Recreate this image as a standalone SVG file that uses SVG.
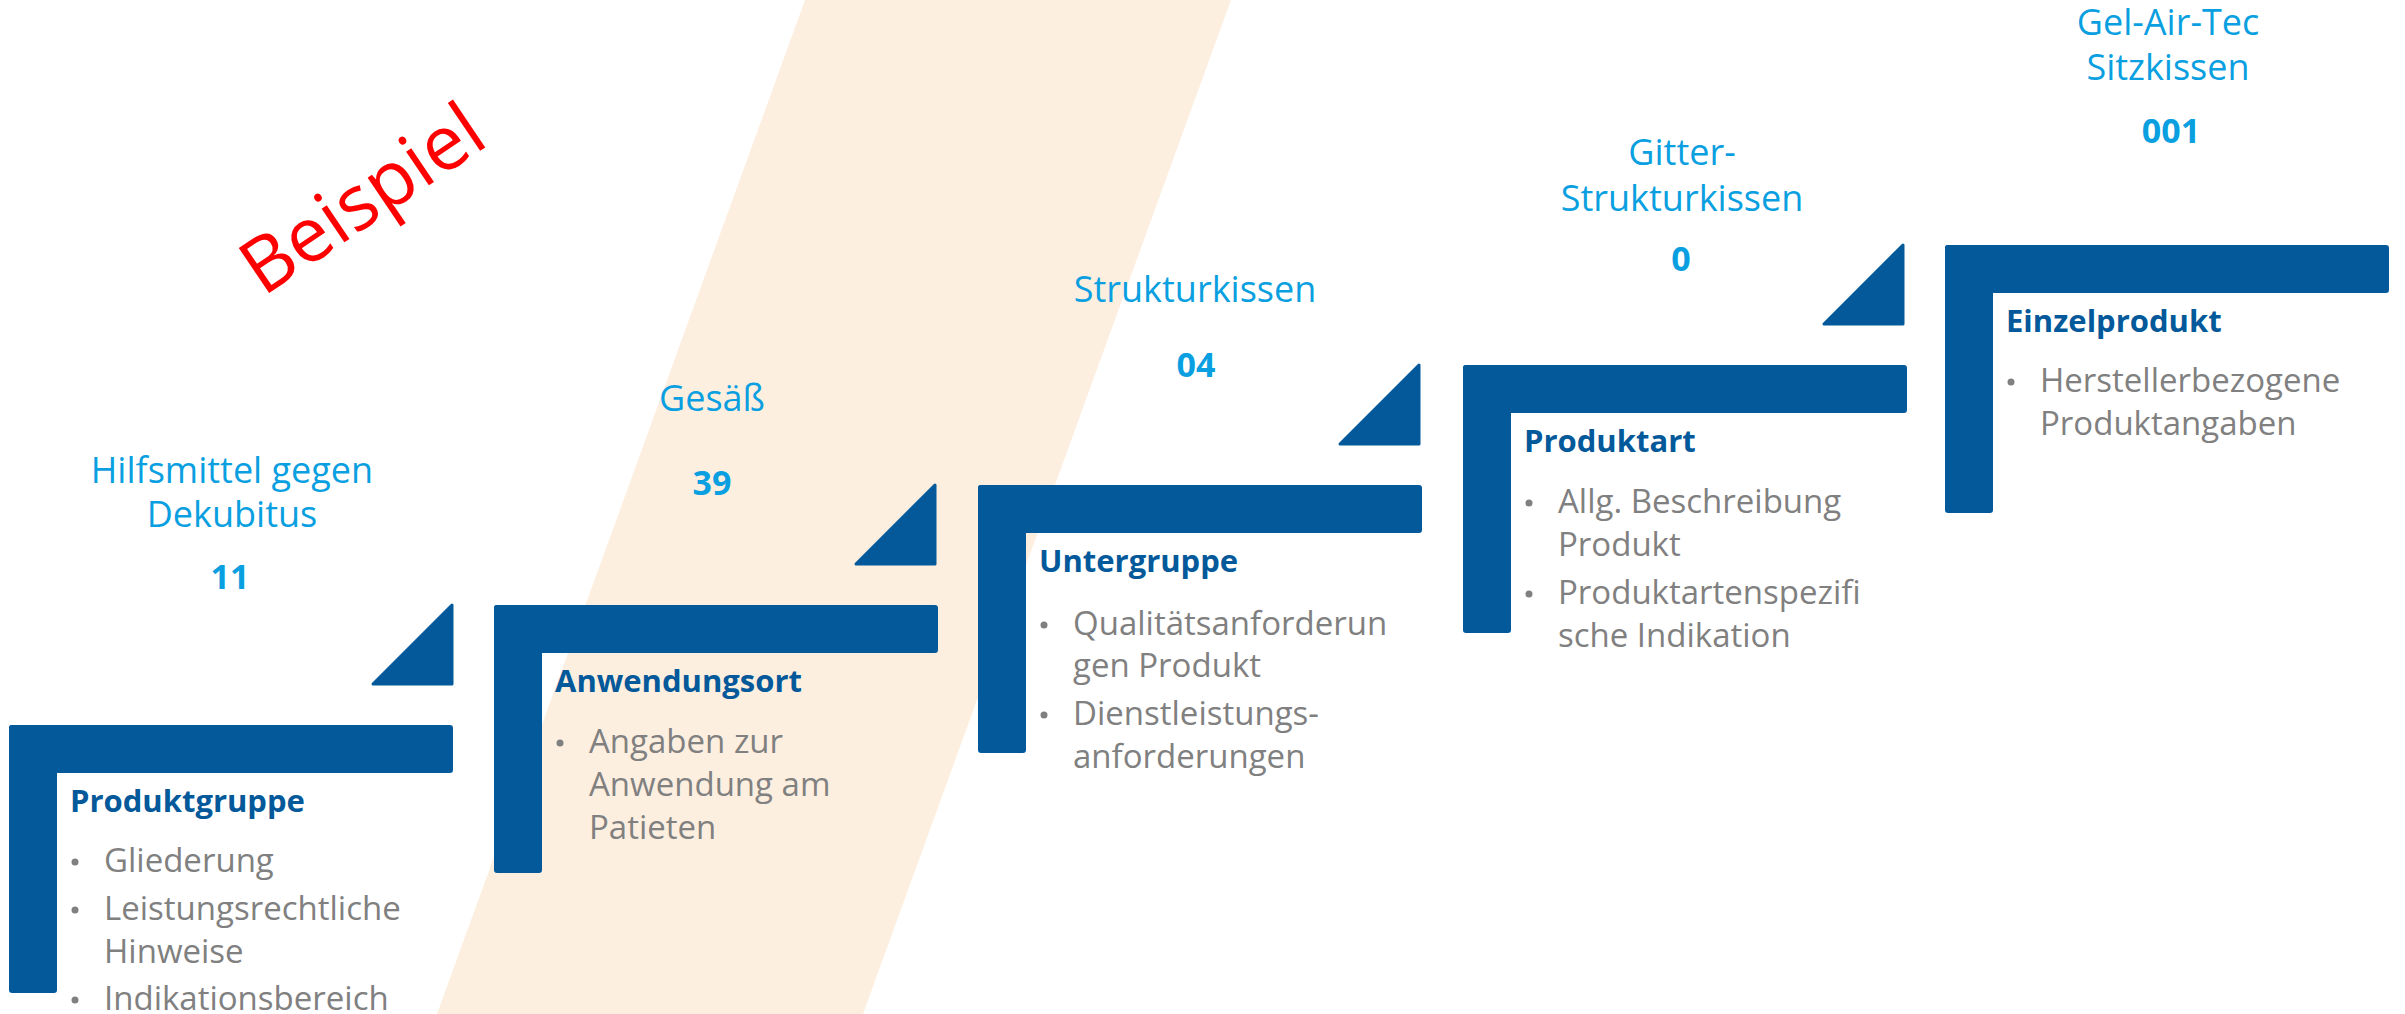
<svg xmlns="http://www.w3.org/2000/svg" xmlns:xlink="http://www.w3.org/1999/xlink" width="2405" height="1014" viewBox="0 0 2405 1014">
  <defs>
    <style>
      .bar { fill: #03599a; }
      .head { font-family: "Open Sans", "Noto Sans", sans-serif; font-weight: 700; font-size: 31px; fill: #03599a; }
      .item { font-family: "Open Sans", "Noto Sans", sans-serif; font-size: 33px; fill: #808080; }
      .dot { fill: #808080; }
      .lbl { font-family: "Open Sans", "Noto Sans", sans-serif; font-size: 36px; fill: #0a9fe0; text-anchor: middle; }
      .code { font-family: "Open Sans", "Noto Sans", sans-serif; font-weight: 700; font-size: 34px; fill: #0a9fe0; text-anchor: middle; }
      .stamp { font-family: "Open Sans", "Noto Sans", sans-serif; font-size: 76px; fill: #ff0000; }
    </style>
    <!-- angle frame of one step: top bar plus left post -->
    <g id="frame">
      <rect class="bar" x="0" y="0" width="444" height="48" rx="3"/>
      <rect class="bar" x="0" y="0" width="48" height="268" rx="3"/>
    </g>
    <!-- wedge pointing up to the next step -->
    <path id="wedge" class="bar" d="M -79 0 L 0 -79 L 0 0 Z" stroke="#03599a" stroke-width="3" stroke-linejoin="round"/>
  </defs>

  <rect width="2405" height="1014" fill="#ffffff"/>

  <!-- diagonal background band -->
  <polygon points="805,0 1231,0 863,1014 437,1014" fill="#fdefe0"/>

  <!-- stamp -->
  <text class="stamp" x="262" y="294" transform="rotate(-34 268 294)">Beispiel</text>

  <!-- wedges between the steps -->
  <g id="connectors">
    <use xlink:href="#wedge" href="#wedge" x="452" y="684"/>
    <use xlink:href="#wedge" href="#wedge" x="935" y="564"/>
    <use xlink:href="#wedge" href="#wedge" x="1419" y="444"/>
    <use xlink:href="#wedge" href="#wedge" x="1903" y="324"/>
  </g>

  <!-- step 1 -->
  <g id="produktgruppe">
    <use xlink:href="#frame" href="#frame" x="9" y="725"/>
    <text class="head" x="70" y="812">Produktgruppe</text>
    <circle class="dot" cx="75" cy="862" r="3.5"/>
    <text class="item" x="104" y="872">Gliederung</text>
    <circle class="dot" cx="75" cy="910" r="3.5"/>
    <text class="item" x="104" y="920">Leistungsrechtliche</text>
    <text class="item" x="104" y="963">Hinweise</text>
    <circle class="dot" cx="75" cy="1000" r="3.5"/>
    <text class="item" x="104" y="1010">Indikationsbereich</text>
    <text class="lbl" x="232" y="483">Hilfsmittel gegen</text>
    <text class="lbl" x="232" y="527">Dekubitus</text>
    <text class="code" x="230" y="589">11</text>
  </g>

  <!-- step 2 -->
  <g id="anwendungsort">
    <use xlink:href="#frame" href="#frame" x="494" y="605"/>
    <text class="head" x="555" y="692">Anwendungsort</text>
    <circle class="dot" cx="560" cy="743" r="3.5"/>
    <text class="item" x="589" y="753">Angaben zur</text>
    <text class="item" x="589" y="796">Anwendung am</text>
    <text class="item" x="589" y="839">Patieten</text>
    <text class="lbl" x="712" y="411">Gesäß</text>
    <text class="code" x="712" y="495">39</text>
  </g>

  <!-- step 3 -->
  <g id="untergruppe">
    <use xlink:href="#frame" href="#frame" x="978" y="485"/>
    <text class="head" x="1039" y="572">Untergruppe</text>
    <circle class="dot" cx="1044" cy="625" r="3.5"/>
    <text class="item" x="1073" y="635">Qualitätsanforderun</text>
    <text class="item" x="1073" y="677">gen Produkt</text>
    <circle class="dot" cx="1044" cy="715" r="3.5"/>
    <text class="item" x="1073" y="725">Dienstleistungs-</text>
    <text class="item" x="1073" y="768">anforderungen</text>
    <text class="lbl" x="1195" y="302">Strukturkissen</text>
    <text class="code" x="1196" y="377">04</text>
  </g>

  <!-- step 4 -->
  <g id="produktart">
    <use xlink:href="#frame" href="#frame" x="1463" y="365"/>
    <text class="head" x="1524" y="452">Produktart</text>
    <circle class="dot" cx="1529" cy="503" r="3.5"/>
    <text class="item" x="1558" y="513">Allg. Beschreibung</text>
    <text class="item" x="1558" y="556">Produkt</text>
    <circle class="dot" cx="1529" cy="594" r="3.5"/>
    <text class="item" x="1558" y="604">Produktartenspezifi</text>
    <text class="item" x="1558" y="647">sche Indikation</text>
    <text class="lbl" x="1682" y="165">Gitter-</text>
    <text class="lbl" x="1682" y="211">Strukturkissen</text>
    <text class="code" x="1681" y="271">0</text>
  </g>

  <!-- step 5 -->
  <g id="einzelprodukt">
    <use xlink:href="#frame" href="#frame" x="1945" y="245"/>
    <text class="head" x="2006" y="332">Einzelprodukt</text>
    <circle class="dot" cx="2011" cy="382" r="3.5"/>
    <text class="item" x="2040" y="392">Herstellerbezogene</text>
    <text class="item" x="2040" y="435">Produktangaben</text>
    <text class="lbl" x="2168" y="35">Gel-Air-Tec</text>
    <text class="lbl" x="2168" y="80">Sitzkissen</text>
    <text class="code" x="2171" y="143">001</text>
  </g>
</svg>
